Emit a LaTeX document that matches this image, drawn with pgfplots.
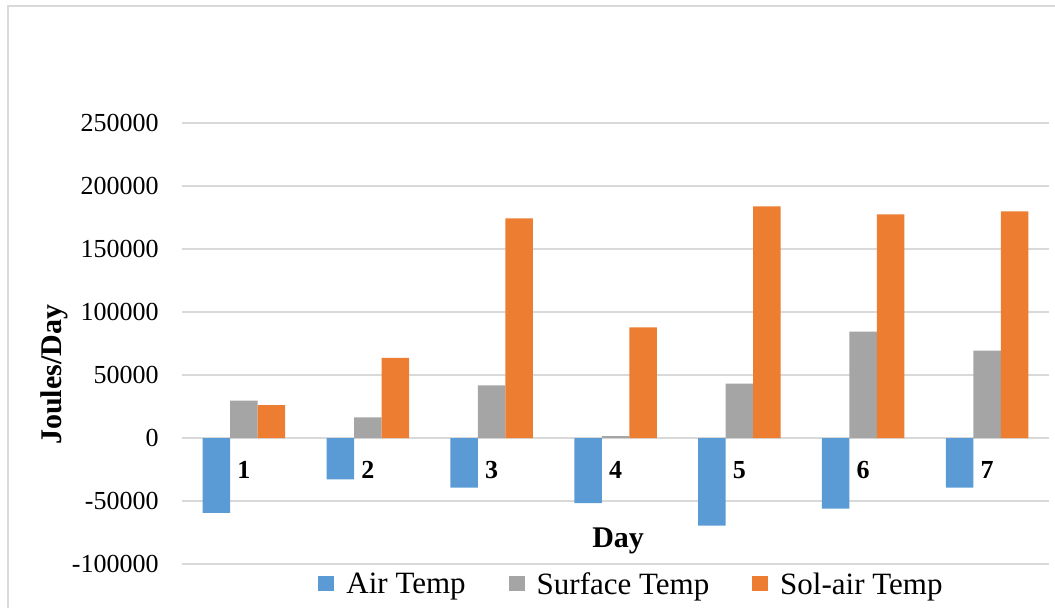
\documentclass[border=0pt]{standalone}
\usepackage{pgfplots}
\pgfplotsset{compat=1.18}
\usepackage{fontspec}
\setmainfont{Liberation Serif}
\definecolor{airblue}{HTML}{5B9BD5}
\definecolor{surfgray}{HTML}{A5A5A5}
\definecolor{solorange}{HTML}{ED7D31}
\definecolor{gridgray}{HTML}{D9D9D9}
\begin{document}
\begin{tikzpicture}
\useasboundingbox (0,0) rectangle (527.5pt,303.5pt);
% chart area frame
\draw[gridgray, line width=0.65pt] (4pt,-1pt) -- (4pt,300.5pt) -- (528.5pt,300.5pt);
\begin{axis}[
  at={(91pt,21.5pt)}, anchor=south west,
  scale only axis, width=433.5pt, height=220.5pt,
  ybar=0pt, bar width=13.75pt,
  xmin=0.5, xmax=7.5, ymin=-100000, ymax=250000,
  xtick={1,2,3,4,5,6,7}, xticklabels={1,2,3,4,5,6,7},
  ytick={-100000,-50000,0,50000,100000,150000,200000,250000},
  scaled y ticks=false,
  /pgf/number format/assume math mode=true,
  /pgf/number format/fixed,
  /pgf/number format/precision=0,
  /pgf/number format/1000 sep={},
  tick label style={font=\fontsize{13}{15}\selectfont},
  xticklabel style={font=\fontsize{13}{15}\selectfont\bfseries, anchor=center, yshift=47pt},
  yticklabel style={anchor=east, inner sep=0pt, xshift=-11.5pt},
  major tick length=0pt,
  tick style={draw=none},
  separate axis lines,
  axis line style={draw=none},
  ymajorgrids, grid style={color=gridgray, line width=0.65pt},
  xlabel={Day}, ylabel={Joules/Day},
  every axis x label/.style={at={(axis description cs:0.503,0.052)}, anchor=center,
    font=\fontsize{15}{18}\selectfont\bfseries},
  every axis y label/.style={at={(axis description cs:-0.1476,0.4286)}, rotate=90, anchor=center,
    font=\fontsize{15}{18}\selectfont\bfseries},
  legend style={at={(axis description cs:0.5196,-0.0476)}, anchor=center,
    draw=none, fill=none, legend columns=3,
    font=\fontsize{15.5}{18}\selectfont,
    /tikz/every odd column/.append style={column sep=4pt},
    /tikz/every even column/.append style={column sep=19.5pt}},
  legend image code/.code={\fill[#1] (0pt,-3pt) rectangle (8pt,4.5pt);},
]
\addplot[fill=airblue, draw=none] coordinates {
  (1,-59500) (2,-32800) (3,-39400) (4,-51600) (5,-69500) (6,-56000) (7,-39400)};
\addplot[fill=surfgray, draw=none] coordinates {
  (1,29700) (2,16400) (3,41800) (4,1500) (5,43200) (6,84400) (7,69400)};
\addplot[fill=solorange, draw=none] coordinates {
  (1,26000) (2,63500) (3,174400) (4,87900) (5,183900) (6,177500) (7,179900)};
\legend{Air Temp, Surface Temp, Sol-air Temp}
\end{axis}
\end{tikzpicture}
\end{document}
